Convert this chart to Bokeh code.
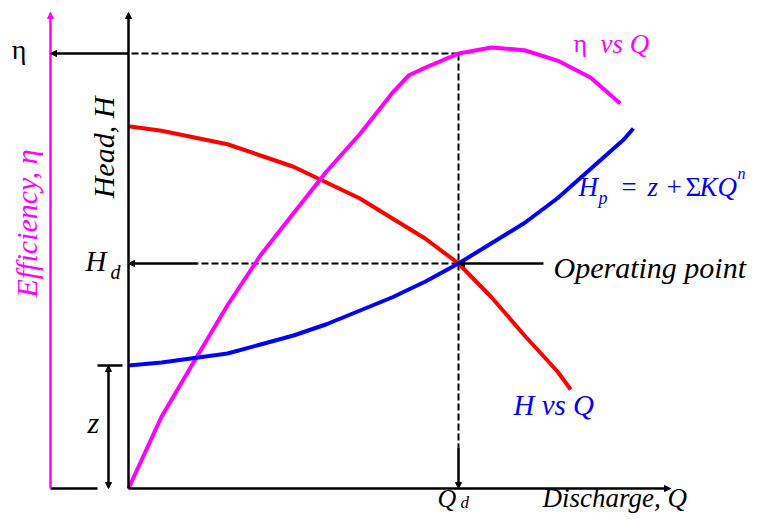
from bokeh.plotting import figure
from bokeh.models import Range1d, Arrow, NormalHead, Label
from bokeh.embed import file_html
from bokeh.resources import INLINE
import math

# ---------------- data ----------------
# Pump characteristic  H vs Q
Q_pump = [0, 1, 2, 3, 4, 5, 6, 7, 8, 9, 10, 11, 12, 13, 13.4]
H_pump = [16.1, 15.9, 15.6, 15.3, 14.8, 14.3, 13.6, 12.9, 12.0, 11.1, 10.0, 8.5, 6.8, 5.2, 4.4]

# System curve  Hp = z + sum K Q^n
Q_sys = [0, 1, 2, 3, 4, 5, 6, 7, 8, 9, 10, 11, 12, 13, 14, 15, 15.3]
H_sys = [5.47, 5.6, 5.8, 6.0, 6.4, 6.8, 7.3, 7.9, 8.5, 9.2, 10.0, 10.9, 11.8, 12.9, 14.2, 15.5, 16.0]

# Efficiency curve  eta vs Q  (percent)
Q_eff = [0, 1, 2, 3, 4, 5, 6, 7, 8, 8.5, 9, 10, 11, 12, 13, 14, 14.9]
ETA = [0, 13.2, 23.5, 33.7, 42.9, 50.6, 58.3, 65.1, 72.8, 76.0, 77.4, 80.0, 81.1, 80.6, 78.7, 75.6, 70.8]

# design / operating point
Q_D = 10.0
H_D = 10.0
ETA_D = 80.0
Z = H_sys[0]

# ---------------- layout (figure pixel -> data units) ----------------
W, H = 749, 513
OX, OY = 128, 488          # origin in pixels
QS, HS, ES = 33.0, 22.5, 5.4375


def q_at(px):
    return (px - OX) / QS


def h_at(py):
    return (OY - py) / HS


def e_at(py):
    return (OY - py) / ES


FONT = "Liberation Serif"
MAGENTA = "#FF00FF"
RED = "#FF0000"
BLUE = "#0000FF"

p = figure(width=W, height=H,
           x_range=Range1d(q_at(0), q_at(W)),
           y_range=Range1d(h_at(H), h_at(0)),
           x_axis_type=None, y_axis_type=None,
           output_backend="svg", toolbar_location=None,
           min_border=0, outline_line_color=None)
p.extra_y_ranges = {"eta": Range1d(e_at(H), e_at(0))}
p.grid.visible = False
p.background_fill_color = "white"
p.border_fill_color = "white"

AX_W = 2.5
CURVE_W = 4
DASH = "7 3"


def arrow(x0, y0, x1, y1, color="black", both=False, y_range_name="default", size=6):
    kw = dict(x_start=x0, y_start=y0, x_end=x1, y_end=y1,
              line_color=color, line_width=AX_W,
              end=NormalHead(size=size, fill_color=color, line_color=color, line_width=1))
    if both:
        kw["start"] = NormalHead(size=size, fill_color=color, line_color=color, line_width=1)
    a = Arrow(**kw)
    if y_range_name != "default":
        a.y_range_name = y_range_name
    p.add_layout(a)


TOP = h_at(12)
ETA_LINE_H = ETA_D * ES / HS     # eta_d expressed in head units

# efficiency axis (magenta)
arrow(q_at(50), 0, q_at(50), TOP, color=MAGENTA)
p.line([q_at(50), q_at(97)], [0, 0], line_color="black", line_width=AX_W)

# head axis and discharge axis
arrow(0, 0, 0, TOP)
arrow(0, 0, q_at(670), 0)

# eta guide line
p.line([Q_D, 0], [ETA_D, ETA_D], y_range_name="eta", line_color="black",
       line_width=2, line_dash=DASH)
arrow(0, ETA_D, q_at(50), ETA_D, y_range_name="eta")

# Qd guide line
p.line([Q_D, Q_D], [ETA_LINE_H, h_at(447)], line_color="black", line_width=2, line_dash=DASH)
arrow(Q_D, h_at(447), Q_D, 0)

# Hd guide line
p.line([Q_D, q_at(197)], [H_D, H_D], line_color="black", line_width=2, line_dash=DASH)
arrow(q_at(197), H_D, 0, H_D)
arrow(q_at(543), H_D, Q_D, H_D)

# z indicator
p.line([q_at(97), q_at(122)], [Z, Z], line_color="black", line_width=AX_W)
arrow(q_at(108), Z, q_at(108), 0, both=True)

# curves
p.line(Q_pump, H_pump, line_color=RED, line_width=CURVE_W)
p.line(Q_eff, ETA, y_range_name="eta", line_color=MAGENTA, line_width=CURVE_W)
p.line(Q_sys, H_sys, line_color=BLUE, line_width=CURVE_W)

SHIFT = 0.32   # baseline correction (fraction of font size)


def label(text, px, py, size, color="black", style="italic", align="left", rotated=False):
    if rotated:
        px = px - SHIFT * size
        angle = math.pi / 2
    else:
        py = py - SHIFT * size
        angle = 0.0
    p.add_layout(Label(x=q_at(px), y=h_at(py), text=text,
                       text_font=FONT, text_font_size=f"{size}px",
                       text_font_style=style, text_color=color,
                       text_align=align, text_baseline="alphabetic", angle=angle))


# left side labels
label("η", 18.5, 58, 28, style="normal", align="center")
label("Efficiency, η", 36, 223, 30, color=MAGENTA, align="center", rotated=True)
label("Head, H", 113, 147, 30, align="center", rotated=True)
label("H", 85, 270, 29)
label("d", 110, 278, 20)
label("z", 87, 432, 30)

# bottom labels (kept inside the canvas)
label("Q", 437, 506, 26)
label("d", 460, 507, 17)
label("Discharge, Q", 542, 506, 27)

# right side labels
label("Operating point", 553, 277, 30)
label("η", 573, 51, 26, color=MAGENTA, style="normal")
label("vs Q", 600, 52, 27, color=MAGENTA)
label("H vs Q", 513, 414, 29, color=BLUE)

# H_p = z + ΣKQ^n
label("H", 578, 195, 27, color=BLUE)
label("p", 598, 203, 18, color=BLUE)
label("=", 621, 195, 27, color=BLUE, style="normal")
label("z", 647, 195, 27, color=BLUE)
label("+", 666, 195, 27, color=BLUE, style="normal")
label("Σ", 685, 195, 27, color=BLUE, style="normal")
label("K", 699, 195, 27, color=BLUE)
label("Q", 717, 195, 27, color=BLUE)
label("n", 737, 178, 16, color=BLUE)

open("out.html", "w").write(file_html(p, INLINE))
